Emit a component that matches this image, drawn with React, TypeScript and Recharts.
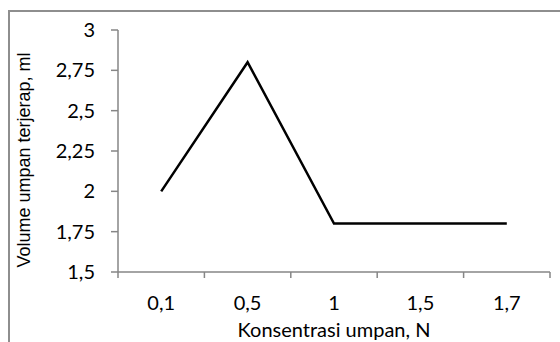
import { LineChart, Line, XAxis, YAxis } from 'recharts';

const categories = ['0,1', '0,5', '1', '1,5', '1,7'];
const volumes = [2, 2.8, 1.8, 1.8, 1.8];
const yTicks = [1.5, 1.75, 2, 2.25, 2.5, 2.75, 3];

const data = categories.map((c, i) => ({ name: c, vol: volumes[i] }));

const W = 560;
const H = 342;
const PLOT_LEFT = 118;
const PLOT_RIGHT = 550;
const BAND = (PLOT_RIGHT - PLOT_LEFT) / categories.length;
const AXIS = '#868686';
const FONT = 'Lato, "Open Sans", sans-serif';
const FS = 20;

// excel style: tick marks sit between categories, not under them
const XTick = (props: any) => {
  const { x, y, payload, index } = props;
  const half = BAND / 2;
  return (
    <g>
      <line x1={x - half} x2={x - half} y1={y} y2={y + 6} stroke={AXIS} strokeWidth={1.5} />
      {index === categories.length - 1 && (
        <line x1={x + half} x2={x + half} y1={y} y2={y + 6} stroke={AXIS} strokeWidth={1.5} />
      )}
      <text x={x} y={y + 30} textAnchor="middle" dominantBaseline="central" fill="#000" fontSize={FS} fontFamily={FONT}>
        {payload.value}
      </text>
    </g>
  );
};

// y title is in an arial-like face in the original, and sits a bit below the plot centre
const YTitle = () => (
  <text
    x={30}
    y={160}
    transform="rotate(-90 30 160)"
    textAnchor="middle"
    fill="#000"
    fontSize={18}
    fontFamily='"Liberation Sans", Arial, sans-serif'
  >
    Volume umpan terjerap, ml
  </text>
);

export default function App() {
  return (
    <div style={{ position: 'fixed', left: 0, top: 0, width: W, height: H, overflow: 'hidden', background: '#fff' }}>
      <div
        style={{
          position: 'absolute',
          left: 8,
          top: 10,
          width: 700,
          height: 500,
          borderLeft: '2px solid #8e8e8e',
          borderTop: '2px solid #8e8e8e',
        }}
      />
      <div style={{ position: 'absolute', left: 0, top: 0 }}>
        <LineChart width={W} height={H} data={data} margin={{ top: 30, right: W - PLOT_RIGHT, bottom: 0, left: 0 }}>
          <XAxis
            dataKey="name"
            height={70}
            padding={{ left: BAND / 2, right: BAND / 2 }}
            tickLine={false}
            tickSize={0}
            tickMargin={0}
            tick={<XTick />}
            axisLine={{ stroke: AXIS, strokeWidth: 1.5 }}
            label={{ value: 'Konsentrasi umpan, N', position: 'insideBottom', offset: 5, fill: '#000', fontSize: FS, fontFamily: FONT }}
          />
          <YAxis
            width={PLOT_LEFT}
            domain={[1.5, 3]}
            ticks={yTicks}
            interval={0}
            tickSize={7}
            tickMargin={16}
            tickFormatter={(v: number) => String(v).replace('.', ',')}
            tick={{ fill: '#000', fontSize: FS, fontFamily: FONT }}
            tickLine={{ stroke: AXIS, strokeWidth: 1.5 }}
            axisLine={{ stroke: AXIS, strokeWidth: 1.5 }}
            label={{ content: () => <YTitle /> }}
          />
          <Line type="linear" dataKey="vol" stroke="#000" strokeWidth={2.5} dot={false} isAnimationActive={false} />
        </LineChart>
      </div>
    </div>
  );
}
